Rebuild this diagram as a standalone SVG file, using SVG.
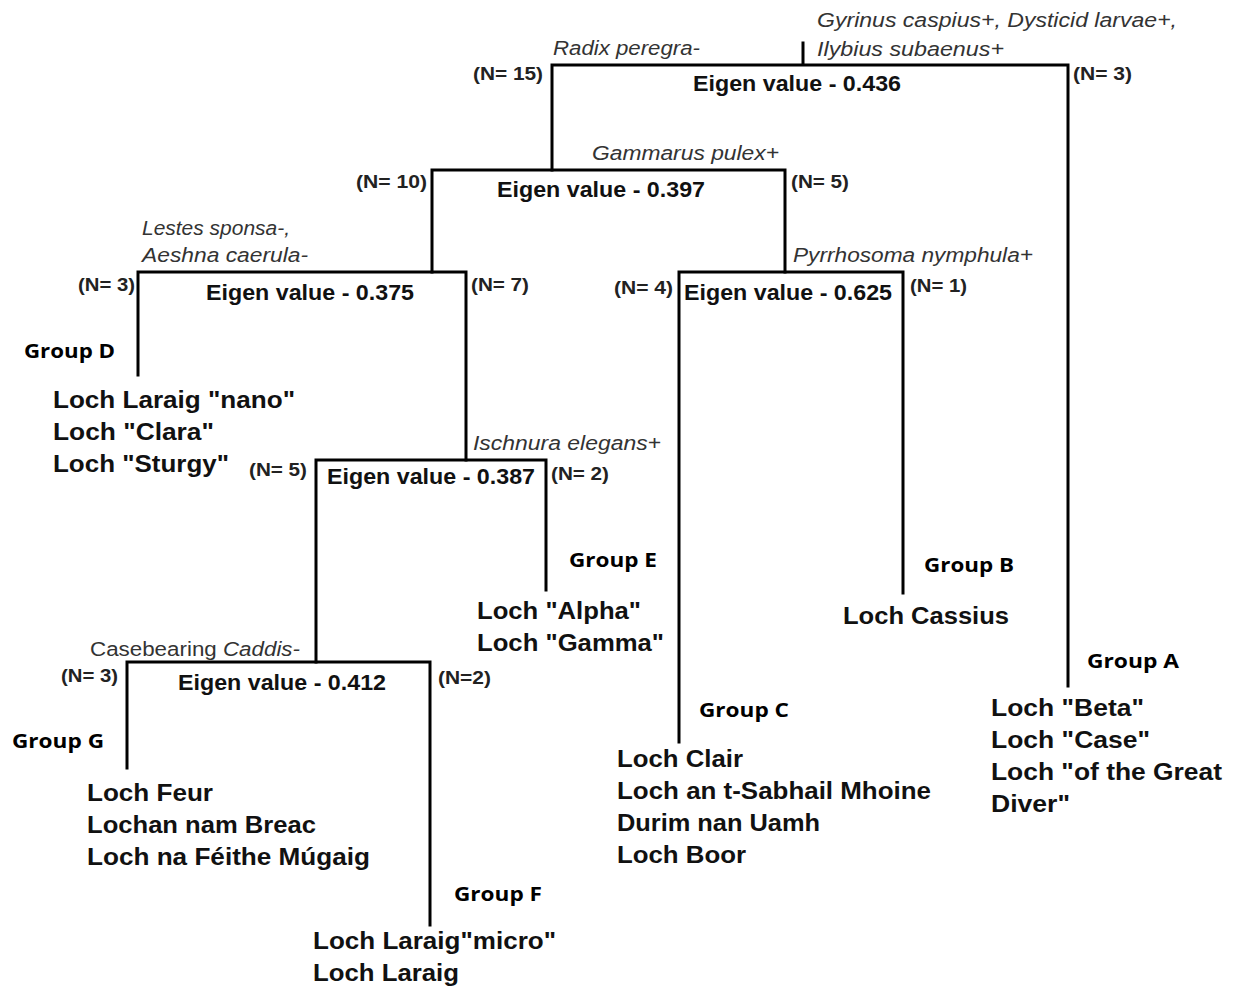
<svg xmlns="http://www.w3.org/2000/svg" width="1240" height="987" viewBox="0 0 1240 987">
<style>
.ln{stroke:#000;stroke-width:3;fill:none;stroke-linecap:square}
.ev{font-family:"Liberation Sans",Arial,sans-serif;font-weight:bold;font-size:22px;fill:#111}
.n{font-family:"Liberation Sans",Arial,sans-serif;font-weight:bold;font-size:18px;fill:#222}
.sp{font-family:"Liberation Sans",Arial,sans-serif;font-style:italic;font-size:20px;fill:#333}
.gr{font-family:"Open Sans","Noto Sans",sans-serif;font-weight:bold;font-size:20px;fill:#000}
.lo{font-family:"Liberation Sans",Arial,sans-serif;font-weight:bold;font-size:23px;fill:#111}
</style>
<rect width="1240" height="987" fill="#fff"/>
<g id="connectors">
<path class="ln" d="M803 43V65M552 170V65H1068V686"/>
<path class="ln" d="M432 272V170H785V272"/>
<path class="ln" d="M138 375V272H466V460"/>
<path class="ln" d="M679 742V272H903V593"/>
<path class="ln" d="M316 662V460H546V590"/>
<path class="ln" d="M127 768V662H430V925"/>
</g>
<g id="node-root">
<text class="sp" x="817" y="27" textLength="360" lengthAdjust="spacingAndGlyphs">Gyrinus caspius+, Dysticid larvae+,</text>
<text class="sp" x="817" y="56" textLength="187" lengthAdjust="spacingAndGlyphs">Ilybius subaenus+</text>
<text class="sp" x="553" y="55" textLength="147" lengthAdjust="spacingAndGlyphs">Radix peregra-</text>
<text class="n" x="473" y="80" textLength="70" lengthAdjust="spacingAndGlyphs">(N= 15)</text>
<text class="n" x="1073" y="80" textLength="59" lengthAdjust="spacingAndGlyphs">(N= 3)</text>
<text class="ev" x="693" y="91" textLength="208" lengthAdjust="spacingAndGlyphs">Eigen value - 0.436</text>
</g>
<g id="node-0397">
<text class="sp" x="592" y="160" textLength="187" lengthAdjust="spacingAndGlyphs">Gammarus pulex+</text>
<text class="n" x="356" y="188" textLength="71" lengthAdjust="spacingAndGlyphs">(N= 10)</text>
<text class="n" x="791" y="188" textLength="58" lengthAdjust="spacingAndGlyphs">(N= 5)</text>
<text class="ev" x="497" y="197" textLength="208" lengthAdjust="spacingAndGlyphs">Eigen value - 0.397</text>
</g>
<g id="node-0375">
<text class="sp" x="142" y="235" textLength="148" lengthAdjust="spacingAndGlyphs">Lestes sponsa-,</text>
<text class="sp" x="142" y="262" textLength="166" lengthAdjust="spacingAndGlyphs">Aeshna caerula-</text>
<text class="n" x="78" y="291" textLength="57" lengthAdjust="spacingAndGlyphs">(N= 3)</text>
<text class="n" x="471" y="291" textLength="58" lengthAdjust="spacingAndGlyphs">(N= 7)</text>
<text class="ev" x="206" y="300" textLength="208" lengthAdjust="spacingAndGlyphs">Eigen value - 0.375</text>
</g>
<g id="node-0625">
<text class="sp" x="793" y="262" textLength="240" lengthAdjust="spacingAndGlyphs">Pyrrhosoma nymphula+</text>
<text class="n" x="614" y="294" textLength="59" lengthAdjust="spacingAndGlyphs">(N= 4)</text>
<text class="n" x="910" y="292" textLength="57" lengthAdjust="spacingAndGlyphs">(N= 1)</text>
<text class="ev" x="684" y="300" textLength="208" lengthAdjust="spacingAndGlyphs">Eigen value - 0.625</text>
</g>
<g id="node-0387">
<text class="sp" x="473" y="450" textLength="188" lengthAdjust="spacingAndGlyphs">Ischnura elegans+</text>
<text class="n" x="249" y="476" textLength="58" lengthAdjust="spacingAndGlyphs">(N= 5)</text>
<text class="n" x="551" y="480" textLength="58" lengthAdjust="spacingAndGlyphs">(N= 2)</text>
<text class="ev" x="327" y="484" textLength="208" lengthAdjust="spacingAndGlyphs">Eigen value - 0.387</text>
</g>
<g id="node-0412">
<text class="sp" x="90" y="656" textLength="210" lengthAdjust="spacingAndGlyphs"><tspan font-style="normal">Casebearing </tspan>Caddis-</text>
<text class="n" x="61" y="682" textLength="57" lengthAdjust="spacingAndGlyphs">(N= 3)</text>
<text class="n" x="438" y="684" textLength="53" lengthAdjust="spacingAndGlyphs">(N=2)</text>
<text class="ev" x="178" y="690" textLength="208" lengthAdjust="spacingAndGlyphs">Eigen value - 0.412</text>
</g>
<g id="group-d">
<text class="gr" x="24" y="358" textLength="91" lengthAdjust="spacingAndGlyphs">Group D</text>
<text class="lo" x="53" y="408" textLength="242" lengthAdjust="spacingAndGlyphs">Loch Laraig "nano"</text>
<text class="lo" x="53" y="440" textLength="161" lengthAdjust="spacingAndGlyphs">Loch "Clara"</text>
<text class="lo" x="53" y="472" textLength="176" lengthAdjust="spacingAndGlyphs">Loch "Sturgy"</text>
</g>
<g id="group-e">
<text class="gr" x="569" y="567" textLength="88" lengthAdjust="spacingAndGlyphs">Group E</text>
<text class="lo" x="477" y="619" textLength="164" lengthAdjust="spacingAndGlyphs">Loch "Alpha"</text>
<text class="lo" x="477" y="651" textLength="187" lengthAdjust="spacingAndGlyphs">Loch "Gamma"</text>
</g>
<g id="group-b">
<text class="gr" x="924" y="572" textLength="90" lengthAdjust="spacingAndGlyphs">Group B</text>
<text class="lo" x="843" y="624" textLength="166" lengthAdjust="spacingAndGlyphs">Loch Cassius</text>
</g>
<g id="group-a">
<text class="gr" x="1087" y="668" textLength="92" lengthAdjust="spacingAndGlyphs">Group A</text>
<text class="lo" x="991" y="716" textLength="153" lengthAdjust="spacingAndGlyphs">Loch "Beta"</text>
<text class="lo" x="991" y="748" textLength="159" lengthAdjust="spacingAndGlyphs">Loch "Case"</text>
<text class="lo" x="991" y="780" textLength="231" lengthAdjust="spacingAndGlyphs">Loch "of the Great</text>
<text class="lo" x="991" y="812" textLength="79" lengthAdjust="spacingAndGlyphs">Diver"</text>
</g>
<g id="group-c">
<text class="gr" x="699" y="717" textLength="90" lengthAdjust="spacingAndGlyphs">Group C</text>
<text class="lo" x="617" y="767" textLength="126" lengthAdjust="spacingAndGlyphs">Loch Clair</text>
<text class="lo" x="617" y="799" textLength="314" lengthAdjust="spacingAndGlyphs">Loch an t-Sabhail Mhoine</text>
<text class="lo" x="617" y="831" textLength="203" lengthAdjust="spacingAndGlyphs">Durim nan Uamh</text>
<text class="lo" x="617" y="863" textLength="129" lengthAdjust="spacingAndGlyphs">Loch Boor</text>
</g>
<g id="group-g">
<text class="gr" x="12" y="748" textLength="92" lengthAdjust="spacingAndGlyphs">Group G</text>
<text class="lo" x="87" y="801" textLength="126" lengthAdjust="spacingAndGlyphs">Loch Feur</text>
<text class="lo" x="87" y="833" textLength="229" lengthAdjust="spacingAndGlyphs">Lochan nam Breac</text>
<text class="lo" x="87" y="865" textLength="283" lengthAdjust="spacingAndGlyphs">Loch na Féithe Múgaig</text>
</g>
<g id="group-f">
<text class="gr" x="454" y="901" textLength="88" lengthAdjust="spacingAndGlyphs">Group F</text>
<text class="lo" x="313" y="949" textLength="243" lengthAdjust="spacingAndGlyphs">Loch Laraig"micro"</text>
<text class="lo" x="313" y="981" textLength="146" lengthAdjust="spacingAndGlyphs">Loch Laraig</text>
</g>
</svg>
